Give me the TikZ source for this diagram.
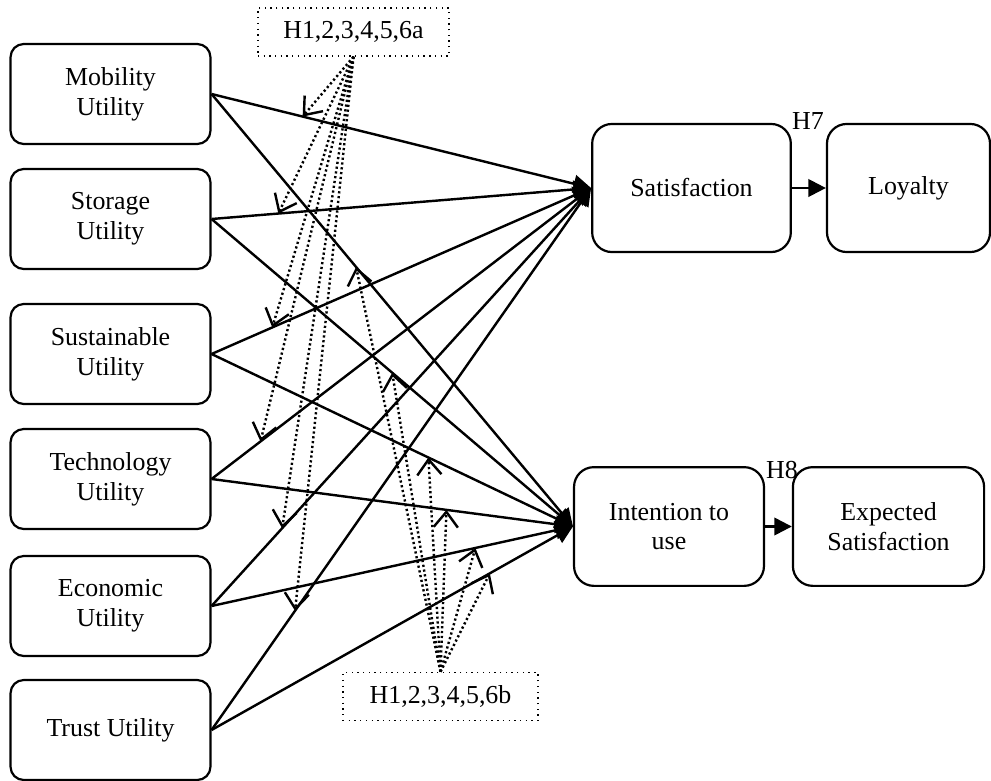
\documentclass[tikz,border=0pt]{standalone}
\usepackage{fontspec}
\setmainfont{Liberation Serif}
\usetikzlibrary{arrows.meta}

\begin{document}
\begin{tikzpicture}[x=0.016cm, y=-0.016cm,
    font=\fontsize{11.8}{13.5}\selectfont,
    box/.style={draw, line width=1pt, rounded corners=6pt, align=center,
        minimum width=3.2cm, minimum height=1.6cm, inner sep=2pt},
    bigbox/.style={box, rounded corners=9pt},
    hbox/.style={draw, dotted, line width=0.6pt, minimum height=0.77cm},
    arr/.style={line width=1.1pt, -{Triangle[length=8pt,width=8pt]}},
    hyp/.style={line width=1.1pt, dash pattern=on 1pt off 1.2pt,
        -{Straight Barb[length=7pt,width=11pt]}}]

\useasboundingbox (0,0) rectangle (991,781);

% nodes
\node[box] (A) at (110.5, 94) {Mobility\\Utility};
\node[box] (B) at (110.5, 219) {Storage\\Utility};
\node[box] (C) at (110.5, 354) {Sustainable\\Utility};
\node[box] (D) at (110.5, 479) {Technology\\Utility};
\node[box] (E) at (110.5, 606) {Economic\\Utility};
\node[box] (F) at (110.5, 730) {Trust Utility};

\node[bigbox, minimum width=3.18cm, minimum height=2.05cm] (G) at (691.5, 188) {Satisfaction};
\node[bigbox, minimum width=2.61cm, minimum height=2.05cm] (H) at (908.5, 188) {Loyalty};
\node[bigbox, minimum width=3.04cm, minimum height=1.9cm] (I) at (669, 526.5) {Intention to\\use};
\node[bigbox, minimum width=3.06cm, minimum height=1.9cm] (J) at (888.5, 526.5) {Expected\\Satisfaction};

\node[hbox, minimum width=3.06cm] (K) at (353.5, 32) {H1,2,3,4,5,6a};
\node[hbox, minimum width=3.12cm] (L) at (440.5, 696.5) {H1,2,3,4,5,6b};

\node (M) at (808, 121) {H7};
\node (N) at (782, 470) {H8};

\path [arr]
    (A.east) edge node[coordinate, pos=.24] (a1) {} (G.west)
    (B.east) edge node[coordinate, pos=.176] (a2) {} (G.west)
    (C.east) edge node[coordinate, pos=.16] (a3) {} (G.west)
    (D.east) edge node[coordinate, pos=.129] (a4) {} (G.west)
    (E.east) edge node[coordinate, pos=.186] (a5) {} (G.west)
    (F.east) edge node[coordinate, pos=.22] (a6) {} (G.west)
    (A.east) edge node[coordinate, pos=.40] (b1) {} (I.west)
    (B.east) edge node[coordinate, pos=.50] (b2) {} (I.west)
    (C.east) edge node[coordinate, pos=.60] (b3) {} (I.west)
    (D.east) edge node[coordinate, pos=.65] (b4) {} (I.west)
    (E.east) edge node[coordinate, pos=.73] (b5) {} (I.west)
    (F.east) edge node[coordinate, pos=.77] (b6) {} (I.west)
    (G) edge (H)
    (I) edge (J)
    ;

\path [hyp]
    (K.south) edge (a1) (K.south) edge (a2) (K.south) edge (a3)
    (K.south) edge (a4) (K.south) edge (a5) (K.south) edge (a6)
    (L.north) edge (b1) (L.north) edge (b2) (L.north) edge (b3)
    (L.north) edge (b4) (L.north) edge (b5) (L.north) edge (b6)
    ;
\end{tikzpicture}
\end{document}
